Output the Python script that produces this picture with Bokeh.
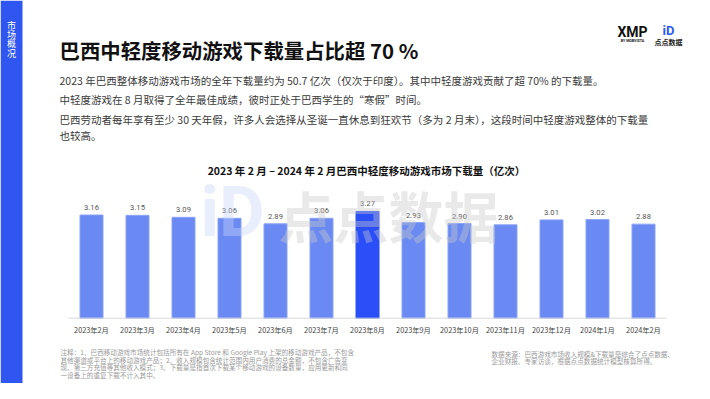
from bokeh.plotting import figure
from bokeh.models import Range1d, Label, BoxAnnotation
from bokeh.embed import file_html
from bokeh.resources import INLINE

months = ["2023年2月", "2023年3月", "2023年4月", "2023年5月", "2023年6月", "2023年7月",
          "2023年8月", "2023年9月", "2023年10月", "2023年11月", "2023年12月", "2024年1月", "2024年2月"]
downloads = [3.16, 3.15, 3.09, 3.06, 2.89, 3.06, 3.27, 2.93, 2.90, 2.86, 3.01, 3.02, 2.88]

title = "巴西中轻度移动游戏下载量占比超 70 %"
body_lines = [
    "2023 年巴西整体移动游戏市场的全年下载量约为 50.7 亿次（仅次于印度）。其中中轻度游戏贡献了超 70% 的下载量。",
    "中轻度游戏在 8 月取得了全年最佳成绩，彼时正处于巴西学生的“寒假”时间。",
    "巴西劳动者每年享有至少 30 天年假，许多人会选择从圣诞一直休息到狂欢节（多为 2 月末），这段时间中轻度游戏整体的下载量",
    "也较高。",
]
chart_title = "2023 年 2 月 – 2024 年 2 月巴西中轻度移动游戏市场下载量（亿次）"
note_left = [
    "注释：1、巴西移动游戏市场统计包括所有在 App Store 和 Google Play 上架的移动游戏产品，不包含",
    "其他渠道或平台上的移动游戏产品；2、收入规模包含统计范围内用户消费的总金额，不包含广告变",
    "现、第三方充值等其他收入模式；3、下载量是指首次下载某个移动游戏的设备数量，应用更新和同",
    "一设备上的重复下载不计入其中。",
]
note_right = [
    "数据来源：巴西游戏市场收入规模&下载量是综合了点点数据、",
    "企业财报、专家访谈，根据点点数据统计模型核算所得。",
]
side_tab = ["市", "场", "概", "况"]

W, H = 694, 383
FONT = "Noto Sans CJK SC"
X0, DX = 91.0, 46.0          # screen x of first bar centre, spacing
Y0, KY = 317.7, 32.65        # screen y of baseline, px per unit

p = figure(width=W, height=H, output_backend="svg", toolbar_location=None,
           x_range=Range1d(-X0 / DX, (W - X0) / DX),
           y_range=Range1d((Y0 - H) / KY, Y0 / KY),
           min_border=0, min_border_left=0, min_border_right=0,
           min_border_top=0, min_border_bottom=0)
p.axis.visible = False
p.grid.visible = False
p.outline_line_color = None
p.background_fill_color = "white"
p.border_fill_color = "white"


def lab(px, py, text, size, color="#333333", style="normal", align="left",
        baseline="middle", alpha=1.0, font=FONT):
    p.add_layout(Label(x=px, y=H - py, x_units="screen", y_units="screen",
                       text=text, text_font=font, text_font_size=f"{size}px",
                       text_color=color, text_font_style=style, text_align=align,
                       text_baseline=baseline, text_alpha=alpha))


# left tab
p.add_layout(BoxAnnotation(left=0, right=22, bottom=0, top=H, left_units="screen",
                           right_units="screen", bottom_units="screen", top_units="screen",
                           fill_color="#2f56f0", fill_alpha=1.0, line_color=None))
for k, ch in enumerate(side_tab):
    lab(11, 24.5 + k * 9.4, ch, 9, color="white", align="center")

# bars
idx = list(range(len(months)))
top_i = downloads.index(max(downloads))
colors = ["#2a4ff8" if i == top_i else "#6a89f2" for i in idx]
p.vbar(x=idx, top=downloads, bottom=0, width=0.5, fill_color=colors,
       line_color=["#2a4ff8" if i == top_i else "#8aa3f5" for i in idx], line_width=1)
p.segment(x0=[idx[0] - 0.5], x1=[idx[-1] + 0.5], y0=[0], y1=[0],
          line_color="#d9d9d9", line_width=1)
p.text(x=idx, y=downloads, text=[f"{v:.2f}" for v in downloads], y_offset=-7.5,
       text_align="center", text_baseline="middle", text_font_size="7.6px",
       text_color="#555555", text_font={"value": "Roboto"})
p.text(x=idx, y=[0] * len(idx), text=months, y_offset=11.5,
       text_align="center", text_baseline="middle", text_font_size="7.3px",
       text_color="#444444", text_font={"value": FONT})

# watermark
lab(232, 211, "iD", 70, color="#c9d4f7", style="bold", align="center", alpha=0.4,
    font="Roboto")
lab(388, 213, "点点数据", 55, color="#c8c8c8", style="bold", align="center", alpha=0.4)

# titles and text
lab(59, 49, title, 20.4, color="#111111", style="bold")
for k, line in enumerate(body_lines):
    lab(59, 80 + k * 19.3 - (3 if k == 3 else 0), line, 10.5, color="#3a3a3a")
lab(366, 170, chart_title, 10.5, color="#111111", style="bold", align="center")

for k, line in enumerate(note_left):
    lab(60, 351.5 + k * 7.6, line, 6.6, color="#9a9a9a")
for k, line in enumerate(note_right):
    lab(491, 353 + k * 7.6, line, 6.6, color="#9a9a9a")

# logos
lab(632, 31, "XMP", 14, color="#111111", style="bold", align="center", font="Roboto")
lab(632, 40.5, "BY MOBVISTA", 3.6, color="#111111", style="bold", align="center", font="Roboto")
lab(668, 30, "iD", 13, color="#2a5cf5", style="bold", align="center", font="Roboto")
lab(668, 41.5, "点点数据", 7, color="#222222", style="bold", align="center")

open("out.html", "w").write(file_html(p, INLINE))
